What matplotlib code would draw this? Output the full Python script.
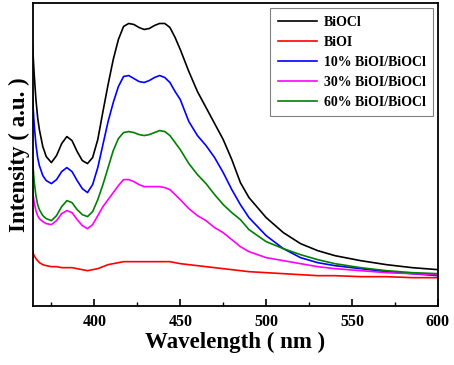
'''
PL spectra of BiOCl / BiOI / BiOI-BiOCl composites
'''
import matplotlib
matplotlib.use('Agg')
import matplotlib.pyplot as plt
from matplotlib.ticker import MultipleLocator

wavelength = [364, 365, 366, 367, 368, 370, 372, 375, 378, 381, 384, 387, 390, 393,
              396, 399, 402, 405, 408, 411, 414, 417, 420, 423, 426, 429, 432, 435,
              438, 441, 444, 447, 450, 455, 460, 465, 470, 475, 480, 485, 490, 500,
              510, 520, 530, 540, 555, 570, 585, 600]

biocl = [261, 231, 206, 188, 176, 159, 149, 143, 150, 162, 169, 165, 154, 145,
         142, 148, 166, 194, 221, 246, 266, 279, 282, 281, 278, 276, 277, 280,
         282, 282, 278, 268, 256, 234, 214, 198, 182, 166, 146, 123, 108, 88,
         73, 62, 55, 50, 45, 41, 38, 36]
bioi = [54, 50, 47, 45, 43, 41, 40, 39, 39, 38, 38, 38, 37, 36,
        35, 36, 37, 39, 41, 42, 43, 44, 44, 44, 44, 44, 44, 44,
        44, 44, 44, 43, 42, 41, 40, 39, 38, 37, 36, 35, 34, 33,
        32, 31, 30, 30, 29, 29, 28, 28]
c10 = [209, 181, 161, 148, 140, 130, 125, 122, 126, 134, 138, 134, 125, 117,
       113, 121, 138, 161, 184, 203, 219, 229, 230, 227, 224, 223, 225, 228,
       230, 228, 223, 214, 206, 184, 170, 160, 148, 133, 116, 101, 88, 70,
       57, 48, 43, 40, 37, 34, 32, 30]
c30 = [116, 103, 95, 90, 87, 84, 82, 81, 85, 92, 95, 93, 86, 80,
       77, 81, 90, 99, 106, 113, 120, 126, 126, 124, 121, 119, 119, 119,
       119, 118, 116, 111, 106, 97, 90, 85, 78, 73, 66, 59, 54, 48,
       45, 42, 39, 37, 35, 33, 32, 31]
c60 = [146, 124, 110, 101, 96, 90, 87, 85, 90, 99, 105, 103, 96, 91,
       89, 94, 106, 121, 138, 155, 167, 173, 174, 173, 171, 170, 171, 173,
       175, 174, 170, 163, 156, 142, 131, 122, 111, 101, 93, 86, 76, 64,
       57, 51, 46, 42, 38, 35, 33, 32]

labels = ['BiOCl', 'BiOI', '10% BiOI/BiOCl', '30% BiOI/BiOCl', '60% BiOI/BiOCl']
colors = ['black', 'red', 'blue', 'magenta', 'green']

plt.rcParams['font.family'] = ['Liberation Serif', 'DejaVu Serif']
plt.rcParams['font.weight'] = 'bold'

def main():
    fig = plt.figure(figsize=(4.54, 3.65), dpi=100)
    ax = fig.add_axes([0.0727, 0.1625, 0.892, 0.828])
    for y, lab, c in zip([biocl, bioi, c10, c30, c60], labels, colors):
        ax.plot(wavelength, y, color=c, lw=1.2, label=lab, solid_joinstyle='round')
    ax.set_xlim(364.3, 600)
    ax.set_ylim(0, 302)
    ax.xaxis.set_major_locator(MultipleLocator(50))
    ax.xaxis.set_minor_locator(MultipleLocator(25))
    ax.set_yticks([])
    ax.tick_params(axis='x', which='major', direction='in', length=5, width=1.2,
                   labelsize=11.5, pad=6, top=False)
    ax.tick_params(axis='x', which='minor', direction='in', length=3, width=1.0, top=False)
    for s in ax.spines.values():
        s.set_linewidth(1.3)
    ax.set_xlabel('Wavelength ( nm )', fontsize=16.5, fontweight='bold', labelpad=1)
    ax.set_ylabel('Intensity ( a.u. )', fontsize=16.5, fontweight='bold', labelpad=2)
    leg = ax.legend(loc='upper right', bbox_to_anchor=(1.0, 1.0), fontsize=10,
                    handlelength=2.8, handletextpad=0.5, labelspacing=0.5,
                    borderpad=0.55, borderaxespad=0.35, fancybox=False, framealpha=1,
                    edgecolor='gray')
    leg.get_frame().set_linewidth(0.8)
    fig.savefig('out.png', dpi=100)

if __name__ == '__main__':
    main()
